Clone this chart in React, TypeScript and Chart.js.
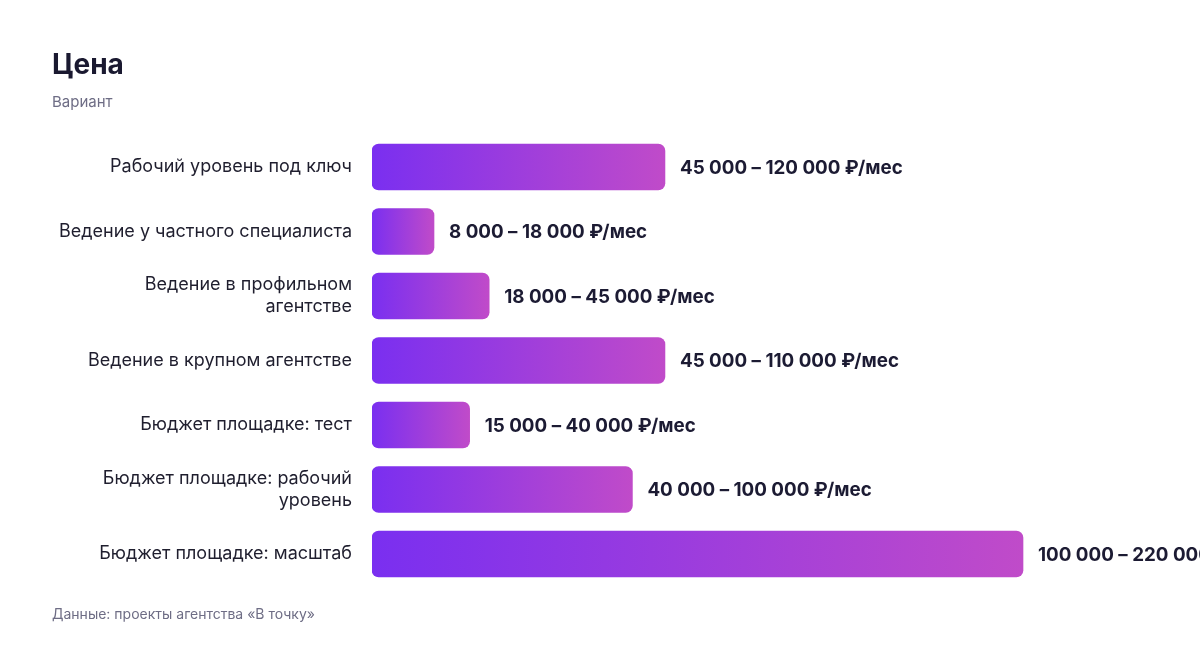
import React, { useEffect, useRef } from "react";
import { Chart, registerables } from "chart.js";

Chart.register(...registerables);

const categories: (string | string[])[] = [
  "Рабочий уровень под ключ",
  "Ведение у частного специалиста",
  ["Ведение в профильном", "агентстве"],
  "Ведение в крупном агентстве",
  "Бюджет площадке: тест",
  ["Бюджет площадке: рабочий", "уровень"],
  "Бюджет площадке: масштаб",
];
const lowValues = [45000, 8000, 18000, 45000, 15000, 40000, 100000];
const highValues = [120000, 18000, 45000, 110000, 40000, 100000, 220000];

const TITLE = "Цена";
const SUBTITLE = "Вариант";
const SOURCE = "Данные: проекты агентства «В точку»";

const FONT = "Inter, 'Liberation Sans', Arial, sans-serif";

const fmt = (n: number) => String(n).replace(/\B(?=(\d{3})+(?!\d))/g, " ");
const rangeLabels = lowValues.map((v, i) => `${fmt(v)} – ${fmt(highValues[i])} ₽/мес`);

const MIN_BAR = 62;

const valueLabelPlugin = {
  id: "valueLabels",
  afterDatasetsDraw(chart: any) {
    const ctx = chart.ctx;
    const meta = chart.getDatasetMeta(0);
    ctx.save();
    ctx.font = `bold 18.8px ${FONT}`;
    ctx.fillStyle = "#1c1b33";
    ctx.textAlign = "left";
    ctx.textBaseline = "middle";
    meta.data.forEach((el: any, i: number) => {
      ctx.fillText(rangeLabels[i], el.x + 15, el.y + 1);
    });
    ctx.restore();
  },
};

export default function App() {
  const ref = useRef<HTMLCanvasElement | null>(null);

  useEffect(() => {
    if (!ref.current) return;
    const chart = new Chart(ref.current, {
      type: "bar",
      data: {
        labels: categories,
        datasets: [
          {
            data: lowValues,
            minBarLength: MIN_BAR,
            barThickness: 46,
            borderRadius: 7,
            borderSkipped: false,
            backgroundColor: (c: any) => {
              const ch = c.chart;
              const xs = ch.scales && ch.scales.x;
              if (!ch.chartArea || !xs || c.dataIndex === undefined) return "#9a3ee0";
              const x0 = xs.getPixelForValue(0);
              let x1 = xs.getPixelForValue(lowValues[c.dataIndex]);
              if (x1 - x0 < MIN_BAR) x1 = x0 + MIN_BAR;
              const g = ch.ctx.createLinearGradient(x0, 0, x1, 0);
              g.addColorStop(0, "#7a2ff0");
              g.addColorStop(1, "#c04bc9");
              return g;
            },
          },
        ],
      },
      options: {
        indexAxis: "y",
        animation: false,
        responsive: false,
        maintainAspectRatio: false,
        layout: { padding: { top: 134.75, bottom: 61.75, left: 0, right: 14.25 } },
        plugins: {
          legend: { display: false },
          tooltip: { enabled: false },
          title: { display: false },
        },
        scales: {
          x: {
            display: false,
            min: 0,
            max: 125000,
          },
          y: {
            afterFit: (s: any) => {
              s.width = 372;
            },
            grid: { display: false, drawTicks: false },
            border: { display: false },
            ticks: {
              padding: 20,
              color: "#1f1e2e",
              font: { family: FONT, size: 18, lineHeight: 1.22 },
            },
          },
        },
      },
      plugins: [valueLabelPlugin],
    } as any);
    return () => chart.destroy();
  }, []);

  return (
    <div
      style={{
        position: "fixed",
        left: 0,
        top: 0,
        width: 1200,
        height: 648,
        overflow: "hidden",
        background: "#ffffff",
        fontFamily: FONT,
      }}
    >
      <canvas ref={ref} width={1200} height={648} style={{ position: "absolute", left: 0, top: 0 }} />
      <div
        style={{
          position: "absolute",
          left: 52,
          top: 44,
          fontSize: 28,
          fontWeight: 700,
          color: "#1a1930",
          lineHeight: "40px",
        }}
      >
        {TITLE}
      </div>
      <div
        style={{
          position: "absolute",
          left: 52,
          top: 92,
          fontSize: 15,
          color: "#6e6d85",
          lineHeight: "20px",
        }}
      >
        {SUBTITLE}
      </div>
      <div
        style={{
          position: "absolute",
          left: 52,
          top: 604,
          fontSize: 14,
          color: "#6e6d85",
          lineHeight: "20px",
        }}
      >
        {SOURCE}
      </div>
    </div>
  );
}
